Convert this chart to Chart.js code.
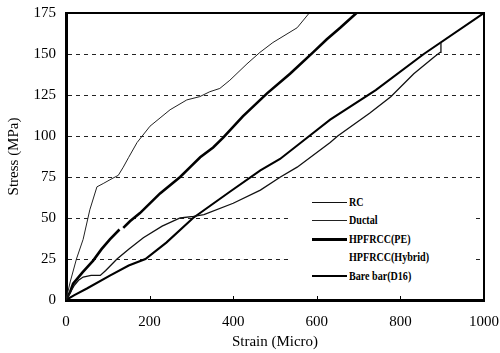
<!DOCTYPE html>
<html><head><meta charset="utf-8">
<script src="https://cdn.jsdelivr.net/npm/chart.js@4"></script>
<style>
html,body{margin:0;padding:0;background:#fff;}
#wrap{position:relative;width:500px;height:353px;}
#c{display:block;}
#legend{position:absolute;left:290px;top:188px;width:186px;height:108px;background:#fff;}
.item{position:absolute;left:22px;height:18px;display:flex;align-items:center;font:bold 12px "Liberation Serif",serif;color:#000;white-space:nowrap;}
.swatch{width:35px;margin-right:2px;}
.txt{display:inline-block;transform:scaleX(0.84);transform-origin:left center;}
</style></head>
<body><div id="wrap"><canvas id="c" width="500" height="353" style="width:500px;height:353px"></canvas><div id="legend"></div></div>
<script>
const seriesNames = ['RC','Ductal','HPFRCC(PE)','HPFRCC(Hybrid)','Bare bar(D16)'];
const xTicks = [0,200,400,600,800,1000];
const yTicks = [0,25,50,75,100,125,150,175];

const rcStrain = [0,20,30,41,60,82,95,122,150,185,230,273,305,330,400,465,513,553,632,650,727,777,832,880,895,897];
const rcStress = [0,9,12,14,15,15,18,25,31,38,45,50,51,52,59,67,75,81,96,100,114,124,138,148,151,157];

const ductalStrain = [0,10,25,41,57,74,89,110,125,137,150,170,201,225,249,289,320,344,368,392,433,464,495,553,582];
const ductalStress = [0,11,25,37,55,69,71,74,76,81,87,96,106,111,116,122,124,127,129,134,144,151,157,166,175];

const peStrain = [0,10,17,40,65,85,105,128,132,137,153,177,225,273,297,321,352,376,423,481,536,591,624,656,695];
const peStress = [0,5,10,17,24,31,37,43,null,44,48,53,65,75,81,87,93,99,112,126,138,151,159,166,175];

const hybridStrain = [];
const hybridStress = [];

const bareStrain = [0,20,50,106,150,190,240,304,392,465,512,592,632,741,856,1000];
const bareStress = [0,3,7,15,21,25,35,50,66,79,86,102,110,128,150,175];

const widths = [1.3,1,2.6,0,2.1];
const colors = ['#111','#222','#000','rgba(0,0,0,0)','#000'];

function pts(xs, ys){ return xs.map((x,i)=>({x:x, y:ys[i]})); }
const allData = [pts(rcStrain,rcStress), pts(ductalStrain,ductalStress), pts(peStrain,peStress), pts(hybridStrain,hybridStress), pts(bareStrain,bareStress)];

const datasets = seriesNames.map((n,i)=>({
  label:n, data:allData[i], showLine:true, borderColor:colors[i], borderWidth:widths[i],
  pointRadius:0, fill:false, tension:0, spanGaps:false
}));

const serif = 'Liberation Serif';
const frame = {id:'frame', afterDraw(c){
  const {ctx, chartArea:a} = c;
  ctx.save();
  ctx.strokeStyle='#000'; ctx.lineWidth=2;
  ctx.beginPath(); ctx.moveTo(a.left,a.top); ctx.lineTo(a.right,a.top); ctx.lineTo(a.right,a.bottom); ctx.stroke();
  ctx.lineWidth=1;
  const xs = c.scales.x;
  xTicks.slice(1,-1).forEach(v=>{const px=Math.round(xs.getPixelForValue(v))+0.5; ctx.beginPath(); ctx.moveTo(px,a.bottom); ctx.lineTo(px,a.bottom-4); ctx.stroke();});
  ctx.restore();
}};

new Chart(document.getElementById('c'), {
  type:'scatter',
  data:{datasets},
  plugins:[frame],
  options:{
    responsive:false, animation:false, devicePixelRatio:1,
    layout:{padding:{top:13,right:16,left:0,bottom:0}},
    plugins:{legend:{display:false}, tooltip:{enabled:false}},
    scales:{
      x:{type:'linear', min:0, max:1000,
        afterBuildTicks(s){ s.ticks = xTicks.map(v=>({value:v})); },
        ticks:{font:{family:serif,size:15}, color:'#000', padding:13, maxRotation:0, autoSkip:false, callback:(v)=>String(v)},
        grid:{display:false, drawTicks:false},
        border:{display:true, color:'#000', width:3},
        title:{display:true, text:'Strain (Micro)', font:{family:serif,size:15}, color:'#000', padding:{top:0,bottom:2}},
        afterFit(s){ s.height=53; s.paddingLeft=0; s.paddingRight=0; }
      },
      y:{type:'linear', min:0, max:175,
        afterBuildTicks(s){ s.ticks = yTicks.map(v=>({value:v})); },
        ticks:{font:{family:serif,size:15}, color:'#000', padding:10, autoSkip:false, callback:(v)=>String(v)},
        grid:{drawTicks:false, lineWidth:1, color:(c)=> (c.tick && (c.tick.value===0 || c.tick.value===175)) ? 'rgba(0,0,0,0)' : '#222'},
        border:{display:true, color:'#000', width:3, dash:[4,4]},
        title:{display:true, text:'Stress (MPa)', font:{family:serif,size:15}, color:'#000', padding:{top:5,bottom:0}},
        afterFit(s){ s.width=66; s.paddingTop=0; s.paddingBottom=0; }
      }
    }
  }
});

const leg = document.getElementById('legend');
datasets.forEach((d,i)=>{
  const it = document.createElement('div'); it.className='item'; it.style.top=(5+i*18.6)+'px';
  const sw = document.createElement('span'); sw.className='swatch';
  sw.style.borderTop = d.borderWidth>0 ? (Math.max(1,Math.round(d.borderWidth))+'px solid '+d.borderColor) : '0';
  sw.style.height='0';
  const tx = document.createElement('span'); tx.className='txt'; tx.textContent=d.label;
  it.appendChild(sw); it.appendChild(tx); leg.appendChild(it);
});
</script>
</body></html>
